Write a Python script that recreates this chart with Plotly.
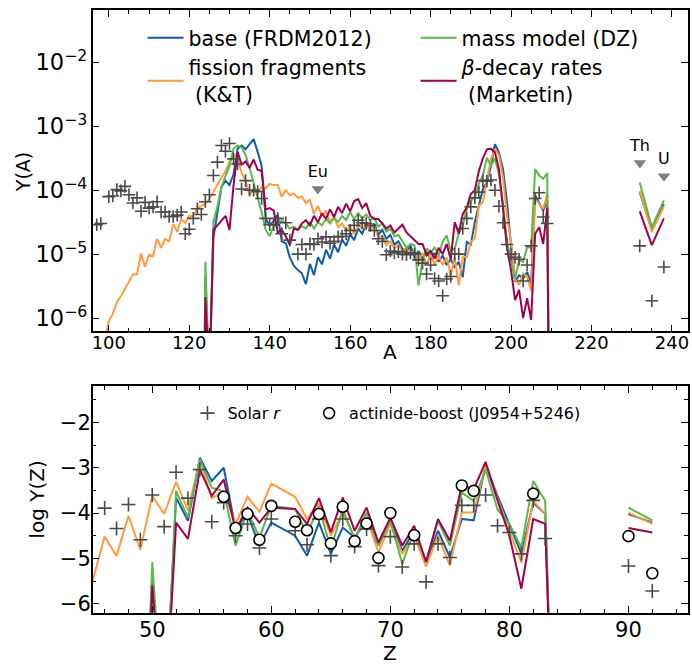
import numpy as np
import plotly.graph_objects as go

# ---------------- top panel: Y(A) (values stored as log10 Y) ----------------
A_model = list(range(123, 211))
logY_base = [-12, -5.35, -7.0, -4.75, -4.35, -3.95, -3.85, -3.92, -3.75, -3.35,
             -3.30, -3.36, -3.28, -3.20, -3.40, -3.62, -4.45, -4.55, -4.48, -4.38,
             -4.80, -4.83, -5.05, -5.18, -5.25, -5.30, -5.47, -5.15, -5.33, -5.05,
             -5.16, -4.93, -5.07, -4.85, -4.97, -4.77, -4.87, -4.69, -4.78, -4.60,
             -4.68, -4.53, -4.62, -4.52, -4.70, -4.62, -4.76, -4.70, -4.85, -4.80,
             -4.92, -4.99, -4.86, -5.05, -4.95, -5.07, -4.97, -5.08, -4.98, -5.12,
             -5.02, -5.17, -5.08, -5.20, -5.12, -5.36, -4.81, -4.85, -4.50, -4.24,
             -3.98, -3.88, -3.62, -3.28, -3.41, -3.67, -4.19, -4.86, -5.43, -5.33,
             -5.38, -5.28, -5.46, -4.08, -4.19, -4.32, -4.16, -12]
logY_dz = [-12, -5.12, -7.0, -4.50, -4.25, -3.95, -3.78, -3.62, -3.35, -3.30,
           -3.33, -3.45, -3.65, -3.88, -4.12, -4.35, -4.62, -4.72, -4.55, -4.55,
           -4.47, -4.52, -4.60, -4.57, -4.62, -4.56, -4.60, -4.50, -4.60, -4.50,
           -4.55, -4.45, -4.52, -4.43, -4.50, -4.40, -4.47, -4.34, -4.45, -4.36,
           -4.44, -4.38, -4.47, -4.43, -4.57, -4.52, -4.65, -4.60, -4.72, -4.70,
           -4.80, -4.90, -4.84, -4.86, -5.49, -5.10, -4.91, -4.99, -4.89, -5.02,
           -4.80, -4.71, -4.95, -4.91, -4.68, -4.55, -4.29, -4.16, -4.11, -3.90,
           -3.77, -3.49, -3.62, -3.50, -3.75, -4.21, -4.81, -5.07, -5.38, -5.10,
           -5.12, -4.89, -4.90, -3.67, -3.77, -3.82, -3.73, -12]
logY_marketin = [-12, -5.67, -7.0, -4.62, -4.55, -4.47, -4.40, -4.62, -3.93, -3.40,
                 -3.60, -3.55, -3.65, -3.52, -3.68, -3.70, -4.30, -4.28, -4.32, -4.66,
                 -4.62, -4.72, -4.86, -4.60, -4.62, -4.52, -4.47, -4.55, -4.40, -4.50,
                 -4.36, -4.45, -4.30, -4.42, -4.26, -4.36, -4.21, -4.33, -4.17, -4.14,
                 -4.28, -4.20, -4.40, -4.45, -4.45, -4.52, -4.60, -4.55, -4.66, -4.60,
                 -4.54, -4.66, -4.72, -4.78, -4.84, -4.84, -5.02, -4.95, -5.07, -4.90,
                 -5.00, -4.84, -5.08, -4.50, -4.68, -4.37, -4.27, -4.06, -4.00, -3.70,
                 -3.50, -3.36, -3.35, -3.41, -3.67, -4.29, -4.91, -5.25, -5.72, -5.56,
                 -6.00, -5.69, -6.03, -4.68, -4.58, -4.84, -4.27, -12]
A_fission = list(range(99, 211))
logY_fission = [-6.35, -6.05, -5.93, -5.75, -5.66, -5.55, -5.44, -5.32, -5.32, -4.99,
                -5.20, -5.01, -5.03, -4.76, -4.90, -4.76, -4.80, -4.53, -4.65, -4.45,
                -4.51, -4.40, -4.41, -4.28, -4.25, -4.21, -4.14, -4.02, -3.90, -3.80,
                -3.71, -3.55, -3.45, -3.50, -3.72, -3.85, -4.08, -3.98, -4.04, -3.95,
                -3.97, -3.90, -3.92, -3.92, -4.10, -4.00, -4.08, -4.05, -4.12, -4.10,
                -4.20, -4.15, -4.37, -4.25, -4.40, -4.32, -4.50, -4.42, -4.58, -4.52,
                -4.63, -4.58, -4.68, -4.55, -4.60, -4.55, -4.60, -4.57, -4.73, -4.72,
                -4.86, -4.80, -4.91, -4.85, -4.95, -4.90, -5.02, -4.94, -5.10, -4.98,
                -5.17, -4.99, -5.17, -5.02, -5.17, -5.05, -5.33, -5.05, -5.49, -5.04,
                -5.05, -4.81, -4.75, -4.24, -4.19, -3.82, -3.51, -3.36, -3.45, -3.80,
                -4.40, -4.81, -5.40, -5.48, -5.30, -5.35, -5.58, -4.14, -4.21, -4.29,
                -4.06, -12]
A_actinide = [232, 235, 238]
logY_act_base = [-4.03, -4.62, -4.22]
logY_act_fission = [-4.01, -4.65, -4.25]
logY_act_dz = [-3.88, -4.58, -4.16]
logY_act_marketin = [-4.33, -4.86, -4.44]

A_solar = [97, 98, 100, 101, 102, 103, 104, 105, 106, 107, 108, 109, 110, 111, 112,
           113, 114, 115, 116, 117, 118, 119, 120, 121, 122, 123, 124, 125, 126, 127,
           128, 129, 130, 131, 132, 133, 134, 135, 136, 137, 138, 139, 140, 141, 142,
           143, 144, 145, 147, 148, 149, 150, 151, 152, 153, 154, 155, 156, 157, 158,
           159, 160, 161, 162, 163, 164, 165, 166, 167, 168, 169, 170, 171, 172, 173,
           174, 175, 176, 177, 178, 179, 180, 181, 182, 183, 184, 185, 186, 187, 188,
           189, 190, 191, 192, 193, 194, 195, 196, 197, 198, 199, 200, 201, 202, 203,
           204, 205, 206, 207, 208, 209, 232, 235, 238]
logY_solar = [-4.54, -4.52, -4.10, -4.09, -3.99, -4.01, -3.94, -4.07, -4.20, -4.12,
              -4.33, -4.19, -4.28, -4.26, -4.18, -4.34, -4.34, -4.41, -4.41, -4.39,
              -4.34, -4.68, -4.61, -4.44, -4.29, -4.38, -4.18, -4.07, -3.77, -3.56,
              -3.30, -3.39, -3.27, -3.51, -3.59, -3.98, -3.85, -4.00, -4.00, -4.02,
              -4.13, -4.44, -4.54, -4.54, -4.44, -4.68, -4.51, -4.78, -5.00, -4.85,
              -5.00, -4.84, -4.85, -4.76, -4.81, -4.73, -4.83, -4.80, -4.73, -4.72,
              -4.68, -4.63, -4.55, -4.47, -4.51, -4.52, -4.55, -4.63, -4.76, -4.80,
              -5.01, -4.95, -4.98, -4.96, -5.00, -5.01, -4.98, -5.00, -5.09, -5.14,
              -5.31, -5.17, -5.38, -5.42, -5.65, -5.39, -5.35, -5.00, -5.00, -4.60,
              -4.44, -4.26, -4.12, -4.03, -3.85, -3.86, -3.84, -4.00, -4.25, -4.51,
              -4.85, -5.00, -5.05, -5.08, -5.42, -5.17, -4.87, -4.13, -4.04, -4.42,
              -4.52, -4.87, -5.73, -5.20]

elem_names = ["Eu", "Th", "U"]
elem_A = [151.96, 232.04, 238.03]
elem_logY = [-3.98, -3.575, -3.78]

# ---------------- bottom panel: log Y(Z) ----------------
Z_fission = list(range(45, 61)) + list(range(62, 85))
logZ_fission = [-5.49, -4.52, -4.95, -4.06, -4.81, -3.62, -4.02, -3.31, -3.94, -2.82,
                -3.67, -3.53, -4.24, -3.64, -3.97, -3.35, -3.64, -4.13, -3.79, -4.50,
                -3.99, -4.54, -4.10, -4.87, -4.24, -4.90, -4.50, -5.18, -4.50, -5.16,
                -3.99, -3.99, -2.96, -3.68, -4.38, -5.10, -3.73, -4.02, -12]
Z_model = list(range(49, 61)) + list(range(62, 85))
logZ_base = [-12, -5.34, -9, -3.66, -4.17, -2.78, -3.29, -3.00, -4.35, -4.02, -4.72,
             -4.21, -4.50, -4.94, -4.21, -4.90, -4.32, -4.54, -4.17, -4.72, -4.17,
             -4.83, -4.39, -5.08, -4.39, -4.98, -4.13, -4.16, -2.94, -3.62, -4.25,
             -4.90, -3.77, -4.02, -12]
logZ_dz = [-12, -5.08, -9, -3.51, -4.10, -2.82, -3.44, -3.52, -4.72, -3.95, -4.54,
           -3.84, -3.91, -4.46, -3.86, -4.79, -3.92, -4.57, -3.99, -4.72, -4.17,
           -5.12, -4.39, -5.08, -4.17, -4.72, -3.55, -3.73, -3.04, -3.92, -4.24,
           -4.76, -3.29, -3.73, -12]
logZ_marketin = [-12, -5.60, -9, -4.21, -4.57, -3.04, -3.62, -3.26, -4.38, -3.88,
                 -4.21, -3.88, -3.91, -4.24, -3.67, -4.42, -3.66, -4.39, -3.88, -4.65,
                 -4.10, -4.72, -4.28, -5.08, -4.13, -4.61, -3.37, -3.48, -2.87, -3.72,
                 -4.50, -5.67, -4.13, -4.24, -12]
Z_actinide = [90, 92]
logZ_act_base = [-4.02, -4.21]
logZ_act_fission = [-3.99, -4.24]
logZ_act_dz = [-3.88, -4.16]
logZ_act_marketin = [-4.33, -4.43]

Z_solar = [46, 47, 48, 49, 50, 51, 52, 53, 54, 55, 56, 57, 58, 59, 60, 62, 63, 64, 65,
           66, 67, 68, 69, 70, 71, 72, 73, 74, 75, 76, 77, 78, 79, 80, 81, 82, 83, 90, 92]
logZ_solar = [-3.89, -4.34, -3.81, -4.59, -3.60, -4.30, -3.10, -3.67, -3.04, -4.19,
              -3.77, -4.50, -4.24, -4.77, -4.13, -4.39, -4.70, -4.13, -4.94, -4.13,
              -4.74, -4.35, -5.16, -4.52, -5.19, -4.68, -5.52, -4.68, -4.98, -3.83,
              -3.83, -3.60, -4.28, -4.43, -4.90, -3.72, -4.56, -5.17, -5.72]
Z_star = [56, 57, 58, 59, 60, 62, 63, 64, 65, 66, 67, 68, 69, 70, 72, 76, 77, 82, 90, 92]
logZ_star = [-3.64, -4.33, -4.02, -4.59, -3.84, -4.19, -4.38, -4.02, -4.67, -3.86,
             -4.62, -4.23, -4.99, -4.00, -4.49, -3.39, -3.51, -3.57, -4.51, -5.33]

# ---------------- styling ----------------
C_BASE = "#125ea6"
C_FIS = "#ff9a3d"
C_DZ = "#5cb84a"
C_MAR = "#a1004e"
C_SOLAR = "#4a4a4a"
FONT = "DejaVu Sans"
W, H = 692, 664

def py(v):
    return 10 ** np.array(v, dtype=float)

fig = go.Figure()

series_top = [
    ("base (FRDM2012)", C_BASE, A_model, logY_base, logY_act_base, 1),
    ("fission fragments<br> (K&T)", C_FIS, A_fission, logY_fission, logY_act_fission, 3),
    ("mass model (DZ)", C_DZ, A_model, logY_dz, logY_act_dz, 2),
    ("<i>β</i>-decay rates<br> (Marketin)", C_MAR, A_model, logY_marketin, logY_act_marketin, 4),
]
for name, col, xs, ys, yact, rank in series_top:
    fig.add_trace(go.Scatter(x=xs, y=py(ys), mode="lines", name=name,
                             line=dict(color=col, width=2), legend="legend",
                             legendrank=rank, xaxis="x", yaxis="y"))
    fig.add_trace(go.Scatter(x=A_actinide, y=py(yact), mode="lines", showlegend=False,
                             line=dict(color=col, width=2), xaxis="x", yaxis="y"))

fig.add_trace(go.Scatter(x=A_solar, y=py(logY_solar), mode="markers", showlegend=False,
                         marker=dict(symbol="cross-thin", size=9, color=C_SOLAR,
                                     line=dict(color=C_SOLAR, width=1.6)),
                         xaxis="x", yaxis="y"))
fig.add_trace(go.Scatter(x=elem_A, y=py(elem_logY), mode="markers+text", text=elem_names,
                         textposition="top center", showlegend=False,
                         textfont=dict(size=16, color="black", family=FONT),
                         marker=dict(symbol="triangle-down", size=11, color="#808080"),
                         xaxis="x", yaxis="y"))

series_bot = [
    (C_BASE, Z_model, logZ_base, logZ_act_base),
    (C_FIS, Z_fission, logZ_fission, logZ_act_fission),
    (C_DZ, Z_model, logZ_dz, logZ_act_dz),
    (C_MAR, Z_model, logZ_marketin, logZ_act_marketin),
]
for col, xs, ys, yact in series_bot:
    fig.add_trace(go.Scatter(x=xs, y=ys, mode="lines", showlegend=False,
                             line=dict(color=col, width=2), xaxis="x2", yaxis="y2"))
    fig.add_trace(go.Scatter(x=Z_actinide, y=yact, mode="lines", showlegend=False,
                             line=dict(color=col, width=2), xaxis="x2", yaxis="y2"))

fig.add_trace(go.Scatter(x=Z_solar, y=logZ_solar, mode="markers", name="Solar <i>r</i>",
                         legend="legend2",
                         marker=dict(symbol="cross-thin", size=10, color=C_SOLAR,
                                     line=dict(color=C_SOLAR, width=1.6)),
                         xaxis="x2", yaxis="y2"))
fig.add_trace(go.Scatter(x=Z_star, y=logZ_star, mode="markers",
                         name="actinide-boost (J0954+5246)", legend="legend3",
                         marker=dict(symbol="circle", size=11, color="white",
                                     line=dict(color="black", width=1.6)),
                         xaxis="x2", yaxis="y2"))

ax_common = dict(showgrid=False, zeroline=False, showline=True, linecolor="black",
                 linewidth=1.5, mirror="allticks", ticks="inside", ticklen=7,
                 tickwidth=1.2, tickcolor="black")

x_dom = [92 / W, 689 / W]
fig.update_layout(
    width=W, height=H, margin=dict(l=0, r=0, t=0, b=0),
    plot_bgcolor="white", paper_bgcolor="white",
    font=dict(family=FONT, color="black"),
    xaxis=dict(domain=x_dom, anchor="y", range=[96, 244], dtick=20, tick0=0,
               tickfont=dict(size=18), ticklabelstandoff=-6,
               minor=dict(dtick=5, ticks="inside", ticklen=4, tickcolor="black", tickwidth=1),
               **ax_common),
    yaxis=dict(domain=[(H - 333) / H, (H - 10) / H], anchor="x", type="log",
               range=[-6.21, -1.18], dtick=1, exponentformat="power",
               tickfont=dict(size=18), **ax_common),
    xaxis2=dict(domain=x_dom, anchor="y2", range=[45, 95], dtick=10, tick0=0,
                tickfont=dict(size=21), ticklabelstandoff=-3,
                minor=dict(dtick=2, ticks="inside", ticklen=4, tickcolor="black", tickwidth=1),
                **ax_common),
    yaxis2=dict(domain=[(H - 615.5) / H, (H - 388) / H], anchor="x2",
                range=[-6.2, -1.2], dtick=1, tick0=0, tickfont=dict(size=21),
                ticklabelstandoff=-4,
                minor=dict(dtick=0.5, ticks="inside", ticklen=4, tickcolor="black", tickwidth=1),
                **ax_common),
    legend=dict(orientation="h", x=142 / W, y=1 - 18 / H, xanchor="left", yanchor="top",
                entrywidth=222, entrywidthmode="pixels", font=dict(size=20.5),
                bgcolor="rgba(0,0,0,0)", itemwidth=36, tracegroupgap=0),
    legend2=dict(orientation="h", x=187 / W, y=1 - 398 / H, xanchor="left", yanchor="top",
                 font=dict(size=16), bgcolor="rgba(0,0,0,0)", itemwidth=30),
    legend3=dict(orientation="h", x=309 / W, y=1 - 398 / H, xanchor="left", yanchor="top",
                 font=dict(size=16), bgcolor="rgba(0,0,0,0)", itemwidth=30),
    annotations=[
        dict(text="A", x=390 / W, y=1 - 354 / H, xref="paper", yref="paper",
             showarrow=False, font=dict(size=20), xanchor="center", yanchor="middle"),
        dict(text="Y(A)", x=22 / W, y=1 - 173 / H, xref="paper", yref="paper",
             showarrow=False, font=dict(size=19), textangle=-90,
             xanchor="center", yanchor="middle"),
        dict(text="Z", x=390 / W, y=1 - 656 / H, xref="paper", yref="paper",
             showarrow=False, font=dict(size=20), xanchor="center", yanchor="middle"),
        dict(text="log Y(Z)", x=36 / W, y=1 - 502 / H, xref="paper", yref="paper",
             showarrow=False, font=dict(size=20), textangle=-90,
             xanchor="center", yanchor="middle"),
    ],
)

fig.write_html("out.html", config={"displayModeBar": False},
               post_script="document.body.style.margin='0px';")
